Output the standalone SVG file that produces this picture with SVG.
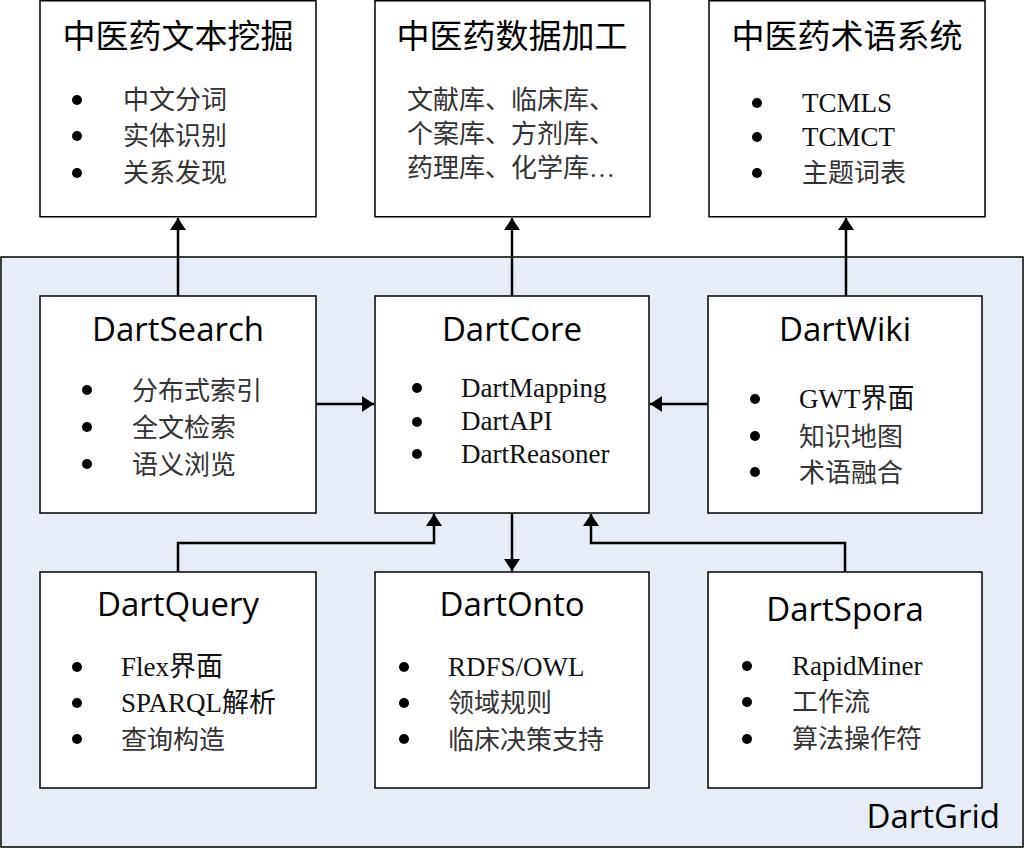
<svg xmlns="http://www.w3.org/2000/svg" width="1026" height="849" viewBox="0 0 1026 849">
<defs>
<marker id="ah" viewBox="0 0 12 16" refX="12" refY="8" markerWidth="12" markerHeight="16" markerUnits="userSpaceOnUse" orient="auto">
<path d="M0,0 L12,8 L0,16 z" fill="#000"/>
</marker>
<style>
.box{fill:#fff;stroke:#000;stroke-width:1.5}
.grid{fill:#E6EDF7;stroke:#000;stroke-width:1.5}
.title{font-family:"Open Sans","Noto Sans CJK SC",sans-serif;font-size:33px;fill:#000;text-anchor:middle}
.ctitle{font-family:"Noto Sans CJK SC",sans-serif;font-size:33px;fill:#000;text-anchor:middle}
.item{font-family:"Liberation Serif","Noto Sans CJK SC",serif;font-size:26px;fill:#333}
.latin{font-family:"Liberation Serif","Noto Sans CJK SC",serif;font-size:27px;fill:#111}
.dot{fill:#000}
.conn{fill:none;stroke:#000;stroke-width:2.5}
</style>
</defs>
<rect id="dartgrid" class="grid" x="1" y="257" width="1022" height="590"/>
<text class="title" x="1000" y="828" style="text-anchor:end">DartGrid</text>

<g id="n-textmining">
<rect class="box" x="40" y="0.75" width="276" height="216"/>
<text class="ctitle" x="178" y="48">中医药文本挖掘</text>
<circle class="dot" cx="77" cy="100" r="5"/><circle class="dot" cx="77" cy="136" r="5"/><circle class="dot" cx="77" cy="173" r="5"/>
<text class="item" x="123" y="109">中文分词</text>
<text class="item" x="123" y="145">实体识别</text>
<text class="item" x="123" y="182">关系发现</text>
</g>

<g id="n-dataproc">
<rect class="box" x="375" y="0.75" width="275" height="216"/>
<text class="ctitle" x="512" y="48">中医药数据加工</text>
<text class="item" x="407" y="109">文献库、临床库、</text>
<text class="item" x="407" y="143">个案库、方剂库、</text>
<text class="item" x="407" y="177">药理库、化学库…</text>
</g>

<g id="n-terms">
<rect class="box" x="709" y="0.75" width="276" height="216"/>
<text class="ctitle" x="847" y="48">中医药术语系统</text>
<circle class="dot" cx="757" cy="103" r="5"/><circle class="dot" cx="757" cy="137" r="5"/><circle class="dot" cx="757" cy="173" r="5"/>
<text class="latin" x="802" y="112">TCMLS</text>
<text class="latin" x="802" y="146">TCMCT</text>
<text class="item" x="802" y="182">主题词表</text>
</g>

<g id="n-dartsearch">
<rect class="box" x="40" y="296" width="276" height="217"/>
<text class="title" x="178" y="341">DartSearch</text>
<circle class="dot" cx="87" cy="390" r="5"/><circle class="dot" cx="87" cy="427" r="5"/><circle class="dot" cx="87" cy="464" r="5"/>
<text class="item" x="132" y="400">分布式索引</text>
<text class="item" x="132" y="437">全文检索</text>
<text class="item" x="132" y="474">语义浏览</text>
</g>

<g id="n-dartcore">
<rect class="box" x="375" y="296" width="274" height="217"/>
<text class="title" x="512" y="341">DartCore</text>
<circle class="dot" cx="417" cy="388" r="5"/><circle class="dot" cx="417" cy="422" r="5"/><circle class="dot" cx="417" cy="454" r="5"/>
<text class="latin" x="461" y="397">DartMapping</text>
<text class="latin" x="461" y="430">DartAPI</text>
<text class="latin" x="461" y="463">DartReasoner</text>
</g>

<g id="n-dartwiki">
<rect class="box" x="708" y="296" width="274" height="217"/>
<text class="title" x="845" y="341">DartWiki</text>
<circle class="dot" cx="755" cy="399" r="5"/><circle class="dot" cx="755" cy="436" r="5"/><circle class="dot" cx="755" cy="472" r="5"/>
<text class="latin" x="799" y="408">GWT界面</text>
<text class="item" x="799" y="446">知识地图</text>
<text class="item" x="799" y="482">术语融合</text>
</g>

<g id="n-dartquery">
<rect class="box" x="40" y="572" width="276" height="216"/>
<text class="title" x="178" y="616">DartQuery</text>
<circle class="dot" cx="77" cy="667" r="5"/><circle class="dot" cx="77" cy="703" r="5"/><circle class="dot" cx="77" cy="739" r="5"/>
<text class="latin" x="121" y="676">Flex界面</text>
<text class="latin" x="121" y="712">SPARQL解析</text>
<text class="item" x="121" y="749">查询构造</text>
</g>

<g id="n-dartonto">
<rect class="box" x="375" y="572" width="274" height="216"/>
<text class="title" x="512" y="616">DartOnto</text>
<circle class="dot" cx="404" cy="667" r="5"/><circle class="dot" cx="404" cy="703" r="5"/><circle class="dot" cx="404" cy="739" r="5"/>
<text class="latin" x="448" y="676">RDFS/OWL</text>
<text class="item" x="448" y="712">领域规则</text>
<text class="item" x="448" y="749">临床决策支持</text>
</g>

<g id="n-dartspora">
<rect class="box" x="708" y="572" width="274" height="216"/>
<text class="title" x="845" y="621">DartSpora</text>
<circle class="dot" cx="747" cy="666" r="5"/><circle class="dot" cx="747" cy="702" r="5"/><circle class="dot" cx="747" cy="739" r="5"/>
<text class="latin" x="792" y="675">RapidMiner</text>
<text class="item" x="792" y="711">工作流</text>
<text class="item" x="792" y="748">算法操作符</text>
</g>

<g id="connectors">
<path class="conn" d="M178,296 L178,218" marker-end="url(#ah)"/>
<path class="conn" d="M512,296 L512,218" marker-end="url(#ah)"/>
<path class="conn" d="M846,296 L846,218" marker-end="url(#ah)"/>
<path class="conn" d="M316,404 L374,404" marker-end="url(#ah)"/>
<path class="conn" d="M708,404 L650,404" marker-end="url(#ah)"/>
<path class="conn" d="M512,513 L512,571" marker-end="url(#ah)"/>
<path class="conn" d="M178,572 L178,543 L434,543 L434,514" marker-end="url(#ah)"/>
<path class="conn" d="M845,572 L845,543 L591,543 L591,514" marker-end="url(#ah)"/>
</g>
</svg>
